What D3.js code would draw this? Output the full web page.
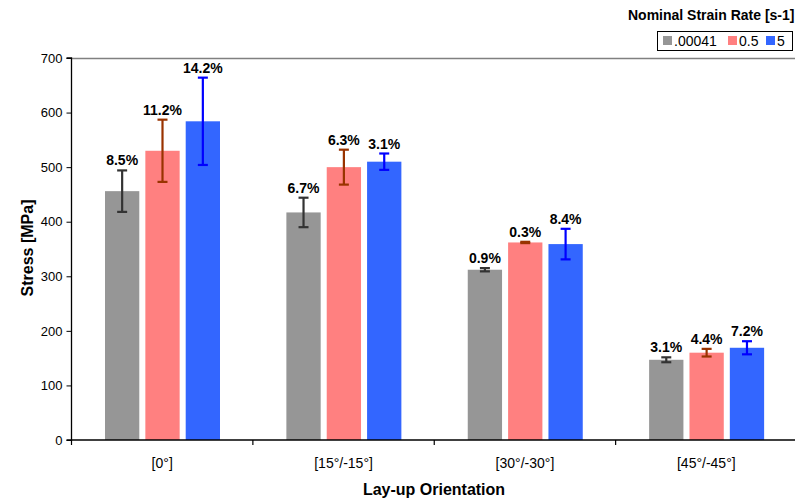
<!DOCTYPE html>
<html><head><meta charset="utf-8">
<script src="https://cdn.jsdelivr.net/npm/d3@7"></script>
<style>body{margin:0;background:#fff}svg{display:block;font-family:Arial,"Liberation Sans",sans-serif}</style>
</head><body><svg id="c" width="795" height="500"></svg>
<script>
const categories = ["[0°]", "[15°/-15°]", "[30°/-30°]", "[45°/-45°]"];
const seriesNames = [".00041", "0.5", "5"];
const stress00041 = [456, 417, 312, 147];
const stress05 = [530, 500, 362, 160];
const stress5 = [584, 510, 359, 169];
const err00041 = [38, 27, 3, 4.5];
const err05 = [57, 32, 1.2, 7];
const err5 = [80, 15, 28, 12];
const pct00041 = ["8.5%", "6.7%", "0.9%", "3.1%"];
const pct05 = ["11.2%", "6.3%", "0.3%", "4.4%"];
const pct5 = ["14.2%", "3.1%", "8.4%", "7.2%"];
const yTicks = [0, 100, 200, 300, 400, 500, 600, 700];

const values = [stress00041, stress05, stress5];
const errs = [err00041, err05, err5];
const pcts = [pct00041, pct05, pct5];
const fills = ["#969696", "#FF8080", "#3366FF"];
const errColors = ["#333333", "#993300", "#0000FF"];

const svg = d3.select("#c");
const L = 71.5, R = 797, T = 58, B = 440;
const x0 = d3.scaleBand().domain(categories).range([L, R]).paddingInner(0).paddingOuter(0);
const x1 = d3.scaleBand().domain(seriesNames).range([33.5, 148.5]).paddingInner(0.15).paddingOuter(0);
const y = d3.scaleLinear().domain([0, 700]).range([B, T]);

// top border
svg.append("line").attr("x1", L).attr("x2", R).attr("y1", y(700)+0.5).attr("y2", y(700)+0.5)
  .attr("stroke", "#808080").attr("stroke-width", 1.5);

const rows = [];
categories.forEach((c, i) => seriesNames.forEach((s, j) => rows.push({c, s, j, v: values[j][i], e: errs[j][i], p: pcts[j][i]})));
const cx = d => x0(d.c) + x1(d.s) + x1.bandwidth()/2;

const g = svg.append("g");
g.selectAll("rect").data(rows).join("rect")
  .attr("x", d => x0(d.c) + x1(d.s)).attr("width", x1.bandwidth())
  .attr("y", d => y(d.v)).attr("height", d => B - y(d.v))
  .attr("fill", d => fills[d.j]);

const eb = g.selectAll("g.eb").data(rows).join("g").attr("class", "eb")
  .attr("stroke", d => errColors[d.j]).attr("stroke-width", 2.2);
eb.append("line").attr("x1", cx).attr("x2", cx)
  .attr("y1", d => y(d.v + d.e)).attr("y2", d => y(d.v - d.e));
eb.append("line").attr("x1", d => cx(d) - 5).attr("x2", d => cx(d) + 5)
  .attr("y1", d => y(d.v + d.e)).attr("y2", d => y(d.v + d.e));
eb.append("line").attr("x1", d => cx(d) - 5).attr("x2", d => cx(d) + 5)
  .attr("y1", d => y(d.v - d.e)).attr("y2", d => y(d.v - d.e));

g.selectAll("text.lbl").data(rows).join("text").attr("class", "lbl")
  .attr("x", cx)
  .attr("y", d => y(d.v + d.e) - 5)
  .attr("text-anchor", "middle").attr("font-size", 14).attr("font-weight", "bold").attr("fill", "#000")
  .text(d => d.p);

// y axis
const ya = svg.append("g").attr("transform", `translate(${L},0)`)
  .call(d3.axisLeft(y).tickValues(yTicks).tickSize(5).tickPadding(4));
ya.select(".domain").attr("stroke", "#000").attr("stroke-width", 1.3).attr("d", `M-5,${B}H0V${T}H-5`);
ya.selectAll(".tick line").attr("stroke", "#000");
ya.selectAll("text").attr("font-size", 13).attr("font-family", "Arial, Liberation Sans, sans-serif").attr("fill", "#000");

// x axis
const xa = svg.append("g").attr("transform", `translate(0,${B})`)
  .call(d3.axisBottom(x0).tickSize(0).tickPadding(18));
xa.select(".domain").attr("stroke", "#000").attr("stroke-width", 1.5).attr("d", `M${L},0H${R}`);
xa.selectAll("text").attr("font-size", 14).attr("font-family", "Arial, Liberation Sans, sans-serif").attr("fill", "#000");
const bounds = categories.map(c => x0(c)).concat([R]);
svg.append("g").selectAll("line").data(bounds).join("line")
  .attr("x1", d => d).attr("x2", d => d).attr("y1", B).attr("y2", B + 5)
  .attr("stroke", "#000").attr("stroke-width", 1.2);

// titles
svg.append("text").attr("transform", "translate(33,248) rotate(-90)").attr("text-anchor", "middle")
  .attr("font-size", 16).attr("font-weight", "bold").text("Stress [MPa]");
svg.append("text").attr("x", 434).attr("y", 495).attr("text-anchor", "middle")
  .attr("font-size", 16).attr("font-weight", "bold").text("Lay-up Orientation");

// legend
svg.append("text").attr("x", 628).attr("y", 20).attr("font-size", 14).attr("font-weight", "bold").text("Nominal Strain Rate [s-1]");
svg.append("rect").attr("x", 657.5).attr("y", 31.5).attr("width", 135).attr("height", 19)
  .attr("fill", "#fff").attr("stroke", "#000").attr("stroke-width", 1);
const legX = [663, 728, 766];
const li = svg.append("g").selectAll("g").data(seriesNames).join("g")
  .attr("transform", (d, i) => `translate(${legX[i]},36)`);
li.append("rect").attr("width", 9).attr("height", 9).attr("fill", (d, i) => fills[i]);
li.append("text").attr("x", 11).attr("y", 9.5).attr("font-size", 14).text(d => d);
</script></body></html>
